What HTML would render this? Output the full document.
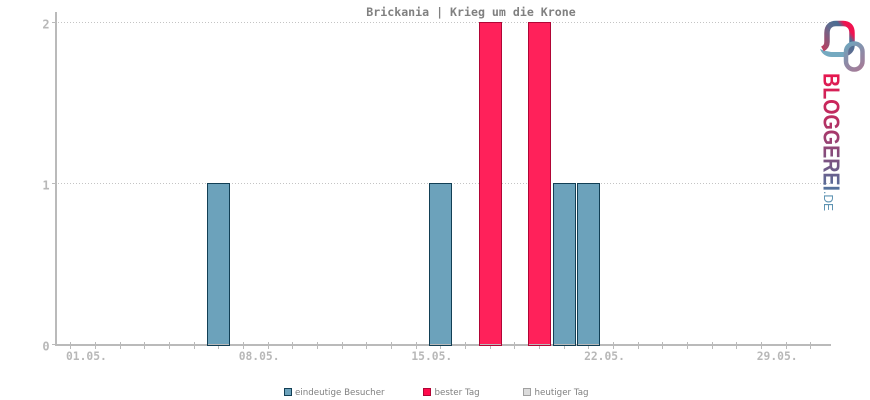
<!DOCTYPE html>
<html>
<head>
<meta charset="utf-8">
<title>Brickania | Krieg um die Krone</title>
<style>
html,body{margin:0;padding:0;background:#fff;}
#chart{display:block;width:870px;height:400px;}
</style>
</head>
<body>
<svg id="chart" xmlns="http://www.w3.org/2000/svg" width="870" height="400" viewBox="0 0 870 400">
  <defs>
    <linearGradient id="wordGrad" gradientUnits="userSpaceOnUse" x1="0" y1="0" x2="120" y2="0">
      <stop offset="0" stop-color="#e8174f"/>
      <stop offset="0.4" stop-color="#b82f62"/>
      <stop offset="0.8" stop-color="#6f5a88"/>
      <stop offset="1" stop-color="#4f77a0"/>
    </linearGradient>
    <linearGradient id="loopA" gradientUnits="userSpaceOnUse" x1="822" y1="50" x2="854" y2="26">
      <stop offset="0" stop-color="#c23a5c"/>
      <stop offset="0.5" stop-color="#5f6c90"/>
      <stop offset="0.72" stop-color="#4a6d92"/>
      <stop offset="0.85" stop-color="#f0124f"/>
      <stop offset="1" stop-color="#f0124f"/>
    </linearGradient>
    <linearGradient id="loopB" gradientUnits="userSpaceOnUse" x1="845" y1="45" x2="863" y2="70">
      <stop offset="0" stop-color="#6fa5bd"/>
      <stop offset="0.5" stop-color="#8d8aa6"/>
      <stop offset="1" stop-color="#a87a96"/>
    </linearGradient>
  </defs>
  <g id="grid"></g>
  <g id="axes"></g>
  <g id="bars"></g>
  <text x="471" y="16" text-anchor="middle" font-family="'DejaVu Sans Mono','Liberation Mono',monospace" font-size="11.6" font-weight="bold" fill="#808080">Brickania | Krieg um die Krone</text>

  <g font-family="'DejaVu Sans','Liberation Sans',sans-serif" font-size="8.7" fill="#808080">
    <g>
      <rect x="284.5" y="388.5" width="7" height="7" fill="#6ca2bb" stroke="#123f55"/>
      <text x="295" y="395">eindeutige Besucher</text>
    </g>
    <g>
      <rect x="423.5" y="388.5" width="7" height="7" fill="#ff0b4c" stroke="#b00535"/>
      <text x="434.5" y="395">bester Tag</text>
    </g>
    <g>
      <rect x="523.5" y="388.5" width="7" height="7" fill="#dcdcdc" stroke="#a0a0a0"/>
      <text x="534.5" y="395">heutiger Tag</text>
    </g>
  </g>

  <g>
    <path d="M820 49 C824 51 827 51 831 52 L845 52 L845 57 L832 57 C826 57 822 54 820 49 Z" fill="#74a9c0"/>
    <path d="M822.500 49 C826 47 827 45 827 42 L827 33 C827 26 831 23.500 836 23.500 L843 23.500 C849 23.500 852 27 852 33 L852 45 C852 49 850 51.500 847 53" fill="none" stroke="url(#loopA)" stroke-width="5.500"/>
    <rect x="846" y="43.500" width="16.500" height="26" rx="8.200" ry="8.200" fill="none" stroke="url(#loopB)" stroke-width="4.500"/>
    <text transform="translate(823.500 73) rotate(90)" font-family="'Liberation Sans',sans-serif" font-weight="bold" font-size="23.500" textLength="118" lengthAdjust="spacingAndGlyphs" fill="url(#wordGrad)">BLOGGEREI</text>
    <text transform="translate(824 191) rotate(90)" font-family="'Liberation Sans',sans-serif" font-size="12.500" textLength="20" lengthAdjust="spacingAndGlyphs" fill="#5d93b2">.DE</text>
  </g>
</svg>
<script>
var categories = ['01','02','03','04','05','06','07','08','09','10','11','12','13','14','15','16','17','18','19','20','21','22','23','24','25','26','27','28','29','30','31'];
var visitorValues = [0,0,0,0,0,0,1,0,0,0,0,0,0,0,0,1,0,2,0,2,1,1,0,0,0,0,0,0,0,0,0];
var yTickValues = [0,1,2];
var xTickLabels = ['01.05.','08.05.','15.05.','22.05.','29.05.'];
var xLabelDays = ['01','08','15','22','29'];

var NS = 'http://www.w3.org/2000/svg';
function xScale(i){ return 70.3 + i * 24.67; }
function yScale(v){ return 344.5 - v * 161; }
function make(tag, attrs, parent){
  var el = document.createElementNS(NS, tag);
  for (var k in attrs) el.setAttribute(k, attrs[k]);
  parent.appendChild(el);
  return el;
}
var gridG = document.getElementById('grid');
var axesG = document.getElementById('axes');
var barsG = document.getElementById('bars');
var AXIS = '#bababa';
var MONO = "'DejaVu Sans Mono','Liberation Mono',monospace";

yTickValues.forEach(function(v){
  var y = yScale(v);
  if (v > 0) {
    var g = make('line', {x1:58, x2:830, y1:y, y2:y, stroke:'#c4c4c4', 'stroke-width':1, 'stroke-dasharray':'1 2'}, gridG);
    
    
  }
  var t = make('line', {x1:52, x2:56, y1:y, y2:y, stroke:AXIS, 'stroke-width':1}, axesG);
  
  
  var lab = make('text', {x:46, y:y + 6, 'text-anchor':'middle', 'font-family':MONO, 'font-size':12, 'font-weight':'bold', fill:'#b8b8b8'}, axesG);
  
  
  lab.textContent = String(v);
});

var yAxis = make('rect', {x:55, y:12, width:2, height:334, fill:AXIS}, axesG);


var xAxis = make('rect', {x:55, y:344, width:776, height:2, fill:AXIS}, axesG);



categories.forEach(function(c, i){
  var x = Math.round(xScale(i)) + 0.5;
  var t = make('line', {x1:x, x2:x, y1:342, y2:349, stroke:AXIS, 'stroke-width':1}, axesG);
  
  
});

xTickLabels.forEach(function(label, n){
  var i = categories.indexOf(xLabelDays[n]);
  var lab = make('text', {x:xScale(i) - 4.3, y:360, 'font-family':MONO, 'font-size':11.3, 'font-weight':'bold', fill:'#b8b8b8'}, axesG);
  
  
  lab.textContent = label;
});

var maxValue = Math.max.apply(null, visitorValues);
visitorValues.forEach(function(v, i){
  if (v <= 0) return;
  var best = v === maxValue;
  var cx = xScale(i);
  var left = Math.round(cx - 11) + 0.5;
  var top = yScale(v);
  var bar = make('rect', {x:left, y:top, width:22, height:345.5 - top,
    fill: best ? '#ff215a' : '#6ca2bb', stroke: best ? '#b00535' : '#123f55', 'stroke-width':1}, barsG);
  
  
  var base = make('rect', {x:left + 0.5, y:344, width:21, height:1, fill:AXIS}, barsG);
  
  
});
</script>
</body>
</html>
